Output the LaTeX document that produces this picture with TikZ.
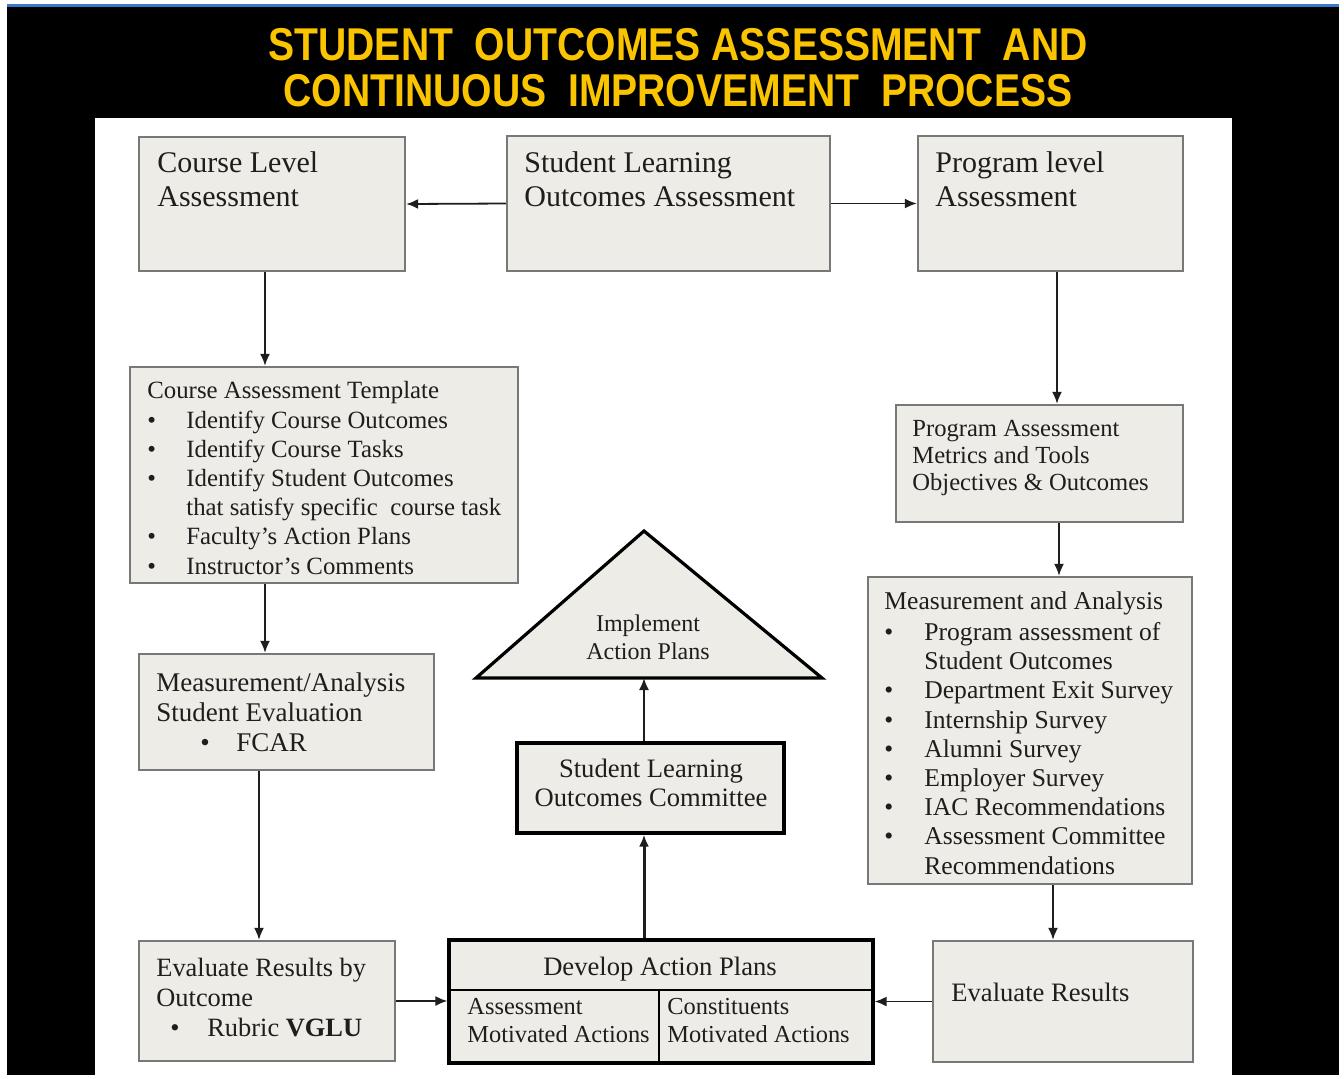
\documentclass[tikz,border=0pt]{standalone}
\usepackage{fontspec}
\setmainfont{Liberation Serif}
\newfontfamily\headfont{Liberation Sans}
\usetikzlibrary{fit,arrows.meta}
\definecolor{boxfill}{RGB}{237,236,230}
\definecolor{boxline}{RGB}{120,120,120}
\definecolor{titlegold}{RGB}{250,196,0}
\definecolor{topblue}{RGB}{60,120,200}
\definecolor{ink}{RGB}{30,30,30}
\newcommand{\bul}[1]{\makebox[#1][l]{\textbullet}}

\begin{document}
\begin{tikzpicture}[x=0.5pt,y=-0.5pt,
  box/.style={draw=boxline, fill=boxfill, line width=1.2pt, inner sep=0pt},
  darkbox/.style={draw=black, fill=boxfill, line width=1.6pt, inner sep=0pt},
  fs/.style 2 args={font=\fontsize{#1}{#2}\selectfont},
  txt/.style={inner sep=0pt, align=left, text=ink, anchor=base west},
  ctxt/.style={inner sep=0pt, align=center, text=ink, anchor=base},
  arr/.style={draw=ink, line width=0.9pt, -{Latex[length=6pt,width=5pt]}}]
  \useasboundingbox (0,0) rectangle (1344,1078);
  % frame of the slide
  \fill[black] (7,6) rectangle (1339,1075);
  \fill[topblue] (7,4) rectangle (1339,7);
  \fill[white] (95,118) rectangle (1232,1075);
  % base anchors below sit on the last line of each text
  \node[anchor=base, inner sep=0pt, align=center, text=titlegold,
    font=\headfont\bfseries\fontsize{23}{23}\selectfont] (title) at (678,106)
    {\scalebox{0.85}[1]{STUDENT\ \ OUTCOMES ASSESSMENT\ \ AND}\\
     \scalebox{0.85}[1]{CONTINUOUS\ \ IMPROVEMENT\ \ PROCESS}};

  % boxes
  \node[box, fit={(139,137) (405,271)}] (cla) {};
  \node[box, fit={(507,136) (830,271)}] (sloa) {};
  \node[box, fit={(918,136) (1183,271)}] (pla) {};
  \node[box, fit={(130,367) (518,583)}] (cat) {};
  \node[box, fit={(896,405) (1183,522)}] (pam) {};
  \node[box, fit={(868,577) (1192,884)}] (maa) {};
  \node[box, fit={(139,654) (434,770)}] (mse) {};
  \node[darkbox, fit={(517,743) (784,833)}] (sloc) {};
  \node[box, fit={(139,941) (395,1061)}] (ero) {};
  \node[darkbox, fit={(449,940) (873,1063)}] (dap) {};
  \node[box, fit={(933,941) (1193,1062)}] (er) {};
  \draw[black, line width=1.6pt, fill=boxfill] (476,678) -- (644,531) -- (822,678) -- cycle;
  \coordinate (iap-base) at (644,678);
  \draw[black, line width=0.8pt] (dap.west |- 0,990) -- (dap.east |- 0,990);
  \draw[black, line width=0.8pt] (659,990) -- (659,0 |- dap.south);

  % texts
  \node[txt, fs={15}{17}] (cla-t) at (157,206) {Course Level\\Assessment};
  \node[txt, fs={15}{17}] (sloa-t) at (524,206) {Student Learning\\Outcomes Assessment};
  \node[txt, fs={15}{17}] (pla-t) at (935,206) {Program level\\Assessment};
  \node[txt, fs={12.4}{14.6}] (cat-t) at (147,574) {Course Assessment Template\\
    \bul{19.5pt}Identify Course Outcomes\\
    \bul{19.5pt}Identify Course Tasks\\
    \bul{19.5pt}Identify Student Outcomes\\
    \hspace*{19.5pt}that satisfy specific\ \ course task\\
    \bul{19.5pt}Faculty's Action Plans\\
    \bul{19.5pt}Instructor's Comments};
  \node[txt, fs={12.3}{13.5}] (pam-t) at (912,490) {Program Assessment\\Metrics and Tools\\Objectives \& Outcomes};
  \node[txt, fs={12.8}{14.6}] (maa-t) at (884,874) {Measurement and Analysis\\[1pt]
    \bul{20pt}Program assessment of\\
    \hspace*{20pt}Student Outcomes\\
    \bul{20pt}Department Exit Survey\\
    \bul{20pt}Internship Survey\\
    \bul{20pt}Alumni Survey\\
    \bul{20pt}Employer Survey\\
    \bul{20pt}IAC Recommendations\\
    \bul{20pt}Assessment Committee\\
    \hspace*{20pt}Recommendations};
  \node[txt, fs={13.5}{15}] (mse-t) at (156,751) {Measurement/Analysis\\Student Evaluation\\
    \hspace*{22pt}\bul{18pt}FCAR};
  \node[ctxt, fs={12}{14}] (iap) at (648,659) {Implement\\Action Plans};
  \node[ctxt, fs={13.3}{14.5}] (sloc-t) at (651,806) {Student Learning\\Outcomes Committee};
  \node[txt, fs={13.2}{15}] (ero-t) at (156,1036) {Evaluate Results by\\Outcome\\
    \hspace*{7pt}\bul{18.5pt}Rubric \textbf{VGLU}};
  \node[ctxt, fs={13.3}{14}] (dap-t) at (660,975) {Develop Action Plans};
  \node[txt, fs={12.2}{14}] (dap-l) at (467,1042) {Assessment\\Motivated Actions};
  \node[txt, fs={12.2}{14}] (dap-r) at (667,1042) {Constituents\\Motivated Actions};
  \node[txt, fs={13.3}{15}] (er-t) at (951,1001) {Evaluate Results};

  % arrows
  \draw[arr] (sloa.west) -- (cla.east);
  \draw[arr] (sloa.east) -- (pla.west);
  \draw[arr] (265,0 |- cla.south) -- (265,0 |- cat.north);
  \draw[arr] (1057,0 |- pla.south) -- (1057,0 |- pam.north);
  \draw[arr] (1059,0 |- pam.south) -- (1059,0 |- maa.north);
  \draw[arr] (265,0 |- cat.south) -- (265,0 |- mse.north);
  \draw[arr] (259,0 |- mse.south) -- (259,0 |- ero.north);
  \draw[arr] (1053,0 |- maa.south) -- (1053,0 |- er.north);
  \draw[arr] (er.west) -- (dap.east);
  \draw[arr] (ero.east) -- (ero.east -| dap.west);
  \draw[arr, line width=1.5pt] (644,0 |- dap.north) -- (644,0 |- sloc.south);
  \draw[arr] (644,0 |- sloc.north) -- (iap-base);
\end{tikzpicture}
\end{document}
